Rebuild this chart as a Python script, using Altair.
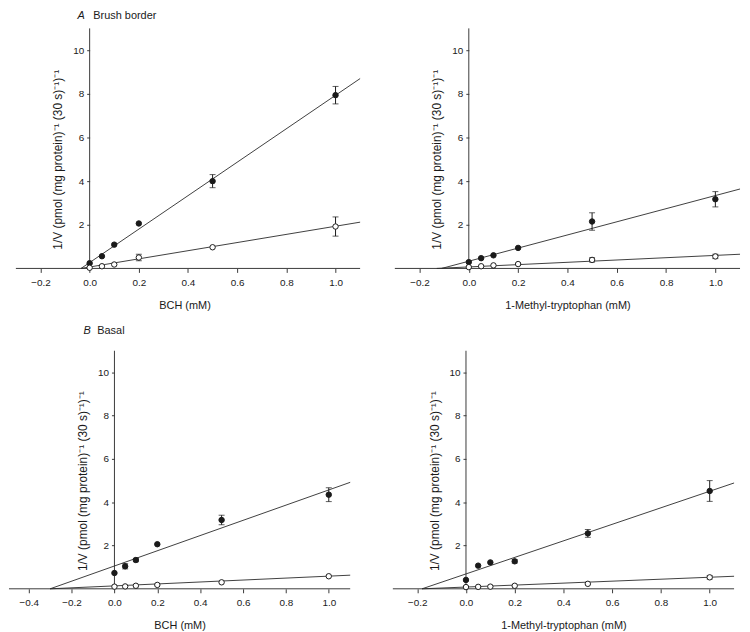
import altair as alt
import pandas as pd

FONT = "Liberation Sans"
INK = "#1a1a1a"
AXIS = "#3a3a3a"
Y_TITLE = "1/V (pmol (mg protein)⁻¹ (30 s)⁻¹)⁻¹"

conc = [0.0, 0.05, 0.1, 0.2, 0.5, 1.0]

# A  Brush border, BCH
bb_bch_filled = [0.24, 0.56, 1.09, 2.06, 4.00, 7.94]
bb_bch_filled_err = [0, 0, 0, 0, 0.30, 0.40]
bb_bch_open = [0.03, 0.10, 0.18, 0.50, 0.97, 1.92]
bb_bch_open_err = [0, 0, 0, 0.15, 0, 0.44]
bb_bch_fit_filled_x = [-0.035, 1.1]
bb_bch_fit_filled_y = [0.0, 8.70]
bb_bch_fit_open_x = [-0.035, 1.1]
bb_bch_fit_open_y = [0.0, 2.12]

# A  Brush border, 1-Methyl-tryptophan
bb_mt_filled = [0.29, 0.47, 0.60, 0.94, 2.15, 3.17]
bb_mt_filled_err = [0, 0, 0, 0, 0.40, 0.35]
bb_mt_open = [0.06, 0.10, 0.14, 0.20, 0.39, 0.55]
bb_mt_open_err = [0, 0, 0, 0, 0.10, 0.10]
bb_mt_fit_filled_x = [-0.11, 1.1]
bb_mt_fit_filled_y = [0.0, 3.64]
bb_mt_fit_open_x = [-0.13, 1.1]
bb_mt_fit_open_y = [0.0, 0.65]

# B  Basal, BCH
ba_bch_filled = [0.73, 1.04, 1.33, 2.06, 3.18, 4.35]
ba_bch_filled_err = [0, 0.12, 0.08, 0, 0.22, 0.32]
ba_bch_open = [0.10, 0.11, 0.14, 0.18, 0.30, 0.58]
ba_bch_open_err = [0, 0, 0, 0, 0, 0]
ba_bch_fit_filled_x = [-0.30, 1.1]
ba_bch_fit_filled_y = [0.0, 4.92]
ba_bch_fit_open_x = [-0.30, 1.1]
ba_bch_fit_open_y = [0.0, 0.63]

# B  Basal, 1-Methyl-tryptophan
ba_mt_filled = [0.41, 1.07, 1.22, 1.27, 2.56, 4.52]
ba_mt_filled_err = [0, 0, 0, 0.08, 0.18, 0.48]
ba_mt_open = [0.08, 0.09, 0.10, 0.14, 0.23, 0.53]
ba_mt_open_err = [0, 0, 0, 0, 0, 0.08]
ba_mt_fit_filled_x = [-0.18, 1.1]
ba_mt_fit_filled_y = [0.0, 4.89]
ba_mt_fit_open_x = [-0.18, 1.1]
ba_mt_fit_open_y = [0.0, 0.58]

ticks_a = [-0.2, 0.0, 0.2, 0.4, 0.6, 0.8, 1.0]
ticks_b = [-0.4, -0.2, 0.0, 0.2, 0.4, 0.6, 0.8, 1.0]
y_ticks = [2, 4, 6, 8, 10]
Y_TOP = 11


def panel(xdom, axis_start, width, height, xticks, xtitle,
          filled, ferr, opn, oerr, ffx, ffy, fox, foy,
          letter=None, name=None, label_x=(0, 0), label_y=-14):
    x0off = width * (0 - xdom[0]) / (xdom[1] - xdom[0])
    xs = alt.Scale(domain=xdom, nice=False, zero=False)
    ys = alt.Scale(domain=[0, Y_TOP], nice=False)

    xaxis = alt.Axis(values=xticks, format=".1f", domain=False, grid=False,
                     tickSize=4, tickColor=AXIS, labelFont=FONT, labelFontSize=10,
                     labelColor=INK, labelPadding=5, labelFlush=False,
                     title=xtitle, titleFont=FONT, titleFontSize=11,
                     titleFontWeight="normal", titleColor=INK, titlePadding=12)
    yaxis = alt.Axis(values=y_ticks, offset=-x0off, domain=False,
                     grid=False, tickSize=3, tickColor=AXIS, labelFont=FONT,
                     labelFontSize=10, labelColor=INK, labelPadding=3,
                     title=Y_TITLE, titleFont=FONT, titleFontSize=12,
                     titleFontWeight="normal", titleColor=INK, titlePadding=8,
                     titleY=height / 2 + 11)

    pts = pd.DataFrame({
        "x": conc * 2,
        "y": filled + opn,
        "err": ferr + oerr,
        "kind": ["filled"] * 6 + ["open"] * 6,
    })
    pts["lo"] = pts["y"] - pts["err"]
    pts["hi"] = pts["y"] + pts["err"]
    errs = pts[pts["err"] > 0]

    fits = pd.DataFrame({
        "x": ffx + fox,
        "y": ffy + foy,
        "kind": ["filled"] * 2 + ["open"] * 2,
    })
    xbase = pd.DataFrame({"x": [axis_start], "x2": [xdom[1]], "y": [0.0]})
    ybase = pd.DataFrame({"x": [0.0], "y": [0.0], "y2": [Y_TOP]})

    X = lambda f: alt.X(f, scale=xs, axis=xaxis)
    Y = lambda f: alt.Y(f, scale=ys, axis=yaxis)

    xline = alt.Chart(xbase).mark_rule(color=AXIS, strokeWidth=1).encode(
        x=X("x:Q"), x2="x2:Q", y=Y("y:Q"))
    yline = alt.Chart(ybase).mark_rule(color=AXIS, strokeWidth=1).encode(
        x=X("x:Q"), y=Y("y:Q"), y2="y2:Q")
    lines = alt.Chart(fits).mark_line(color="#2a2a2a", strokeWidth=0.9).encode(
        x=X("x:Q"), y=Y("y:Q"), detail="kind:N")
    bars = alt.Chart(errs).mark_rule(color=INK, strokeWidth=1).encode(
        x=X("x:Q"), y=Y("lo:Q"), y2="hi:Q")
    cap_lo = alt.Chart(errs).mark_tick(color=INK, orient="horizontal", size=6,
                                      thickness=1).encode(x=X("x:Q"), y=Y("lo:Q"))
    cap_hi = alt.Chart(errs).mark_tick(color=INK, orient="horizontal", size=6,
                                      thickness=1).encode(x=X("x:Q"), y=Y("hi:Q"))
    dots = alt.Chart(pts).mark_circle(stroke=INK, strokeWidth=1, size=30,
                                      opacity=1).encode(
        x=X("x:Q"), y=Y("y:Q"),
        fill=alt.Fill("kind:N", scale=alt.Scale(domain=["filled", "open"],
                                                range=[INK, "white"]),
                      legend=None))
    layers = [xline, yline, lines, bars, cap_lo, cap_hi, dots]
    if letter:
        lab = pd.DataFrame({"t": [letter], "n": [name]})
        layers.append(alt.Chart(lab).mark_text(
            align="left", baseline="middle", font=FONT, fontSize=11,
            fontStyle="italic", color=INK).encode(
            x=alt.value(label_x[0]), y=alt.value(label_y), text="t:N"))
        layers.append(alt.Chart(lab).mark_text(
            align="left", baseline="middle", font=FONT, fontSize=11,
            color=INK).encode(
            x=alt.value(label_x[1]), y=alt.value(label_y), text="n:N"))
    return alt.layer(*layers).properties(width=width, height=height)


pA = panel([-0.328, 1.1], -0.3, 354, 242, ticks_a, "BCH (mM)",
           bb_bch_filled, bb_bch_filled_err, bb_bch_open, bb_bch_open_err,
           bb_bch_fit_filled_x, bb_bch_fit_filled_y, bb_bch_fit_open_x, bb_bch_fit_open_y,
           letter="A", name="Brush border", label_x=(69, 85), label_y=-12)
pTR = panel([-0.3, 1.1], -0.3, 348, 242, ticks_a, "1-Methyl-tryptophan (mM)",
            bb_mt_filled, bb_mt_filled_err, bb_mt_open, bb_mt_open_err,
            bb_mt_fit_filled_x, bb_mt_fit_filled_y, bb_mt_fit_open_x, bb_mt_fit_open_y)
pB = panel([-0.492, 1.1], -0.492, 344, 240, ticks_b, "BCH (mM)",
           ba_bch_filled, ba_bch_filled_err, ba_bch_open, ba_bch_open_err,
           ba_bch_fit_filled_x, ba_bch_fit_filled_y, ba_bch_fit_open_x, ba_bch_fit_open_y,
           letter="B", name="Basal", label_x=(75, 89), label_y=-20)
pBR = panel([-0.3, 1.1], -0.3, 344, 240, ticks_a, "1-Methyl-tryptophan (mM)",
            ba_mt_filled, ba_mt_filled_err, ba_mt_open, ba_mt_open_err,
            ba_mt_fit_filled_x, ba_mt_fit_filled_y, ba_mt_fit_open_x, ba_mt_fit_open_y)

row1 = alt.hconcat(pA, pTR, spacing=32)
row2 = alt.hconcat(pB, pBR, spacing=40)
chart = alt.vconcat(row1, row2, spacing=15, background="white",
                    padding={"left": 0, "top": 0, "right": 0, "bottom": 0}
                    ).configure_view(stroke=None)

chart.save("out.html", embed_options={"renderer": "svg", "actions": False})
